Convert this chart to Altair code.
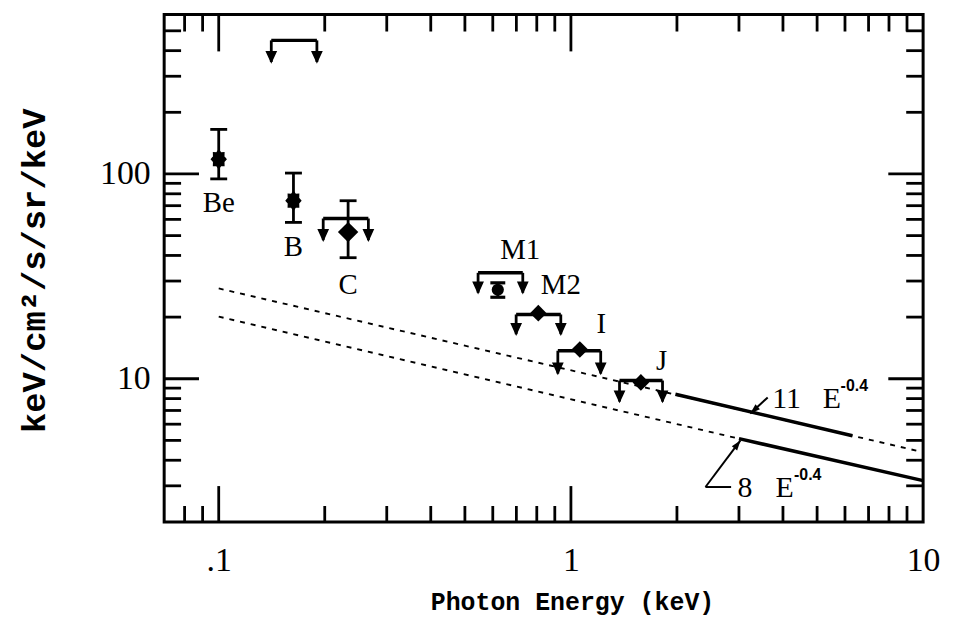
import altair as alt
import numpy as np
import pandas as pd

# ---------------- data ----------------
pt_name = ['Be', 'B', 'C', 'M1', 'M2', 'I', 'J']
pt_x = [0.100, 0.163, 0.233, 0.620, 0.808, 1.060, 1.580]
pt_y = [118.0, 74.0, 52.0, 27.2, 20.9, 13.9, 9.6]

err_name = ['Be', 'B', 'C', 'M1']
err_x = [0.100, 0.163, 0.233, 0.620]
err_lo = [94.6, 58.0, 39.0, 25.0]
err_hi = [165.0, 101.0, 74.0, 29.4]

ul_x1 = [0.141, 0.198, 0.545, 0.699, 0.918, 1.374]
ul_x2 = [0.190, 0.266, 0.730, 0.936, 1.215, 1.820]
ul_y = [449.0, 60.6, 32.9, 20.6, 13.7, 9.8]
ul_tip = [352.0, 47.5, 26.3, 16.5, 10.6, 7.74]

lab_text = ['Be', 'B', 'C', 'M1', 'M2', 'I', 'J']
lab_x = [0.100, 0.163, 0.233, 0.718, 0.936, 1.22, 1.81]
lab_y = [72.4, 43.9, 28.8, 42.5, 28.8, 18.4, 12.2]

# power-law model lines (end points)
dash_id = ['11', '11', '8', '8']
dash_x = [0.1, 10.0, 0.1, 3.0]
dash_y = [27.6, 4.38, 20.1, 5.1]
solid_id = ['11', '11', '8', '8']
solid_x = [1.98, 6.3, 3.0, 10.0]
solid_y = [8.4, 5.27, 5.1, 3.18]

# annotations
ann_text = ['11', 'E', '8', 'E']
ann_x = [3.73, 5.19, 2.97, 3.81]
ann_y = [7.98, 7.98, 2.94, 2.94]
sup_text = ['-0.4', '-0.4']
sup_x = [5.83, 4.30]
sup_y = [9.26, 3.37]

lead_x1 = [3.62, 2.41, 2.41]
lead_y1 = [8.1, 2.96, 2.96]
lead_x2 = [3.23, 2.85, 3.03]
lead_y2 = [6.77, 2.96, 5.0]
head_x = [3.23, 3.03]
head_y = [6.77, 5.0]
head_ang = [228, 37]

# axis ticks / labels
x_major = [0.1, 1.0]
x_minor = [0.08, 0.09, 0.2, 0.3, 0.4, 0.5, 0.6, 0.7, 0.8, 0.9,
           2, 3, 4, 5, 6, 7, 8, 9]
y_major = [10, 100]
y_minor = [3, 4, 5, 6, 7, 8, 9, 20, 30, 40, 50, 60, 70, 80, 90,
           200, 300, 400, 500]
x_labels = [0.1, 1, 10]
y_labels = [10, 100]

# ---------------- chart ----------------
W, H = 763, 510
xs = alt.Scale(type='log', domain=[0.07, 10], nice=False)
ys = alt.Scale(type='log', domain=[2, 600], nice=False)
SERIF = 'Liberation Serif'

x_axis = alt.Axis(values=x_labels, labelExpr="datum.value < 0.5 ? '.1' : (datum.value < 5 ? '1' : '10')",
                  ticks=False, tickSize=0, domain=False, grid=False, labelFlush=False,
                  labelOverlap=False, labelFont=SERIF, labelFontSize=34, labelColor='black',
                  labelPadding=22, title='Photon Energy (keV)', titleFont='Liberation Mono',
                  titleFontWeight='bold', titleFontSize=25, titleColor='black',
                  titleX=410, titleY=80, titleBaseline='middle', titleAlign='center')
y_axis = alt.Axis(values=y_labels, labelExpr="format(datum.value, 'd')",
                  ticks=False, tickSize=0, domain=False, grid=False, labelFlush=False,
                  labelOverlap=False, labelFont=SERIF, labelFontSize=34, labelColor='black',
                  labelPadding=14, title='keV/cm²/s/sr/keV', titleFont='Liberation Mono',
                  titleFontWeight='bold', titleFontSize=34, titleColor='black',
                  titleX=-130, titleY=257, titleBaseline='middle', titleAngle=-90,
                  titleAlign='center')


def X(f):
    return alt.X(f, type='quantitative', scale=xs, axis=x_axis)


def Y(f):
    return alt.Y(f, type='quantitative', scale=ys, axis=y_axis)


df_pts = pd.DataFrame({'name': pt_name, 'x': pt_x, 'y': pt_y})
df_err = pd.DataFrame({'name': err_name, 'x': err_x, 'lo': err_lo, 'hi': err_hi})
df_caps = pd.DataFrame({'name': err_name * 2, 'x': err_x * 2, 'y': err_lo + err_hi})
df_ul = pd.DataFrame({'x1': ul_x1, 'x2': ul_x2, 'y': ul_y, 'tip': ul_tip})
df_ul_end = pd.DataFrame({'x': ul_x1 + ul_x2, 'y': ul_y * 2, 'tip': ul_tip * 2})
df_lab = pd.DataFrame({'t': lab_text, 'x': lab_x, 'y': lab_y})
df_dash = pd.DataFrame({'id': dash_id, 'x': dash_x, 'y': dash_y})
df_solid = pd.DataFrame({'id': solid_id, 'x': solid_x, 'y': solid_y})
df_ann = pd.DataFrame({'t': ann_text, 'x': ann_x, 'y': ann_y})
df_sup = pd.DataFrame({'t': sup_text, 'x': sup_x, 'y': sup_y})
df_lead = pd.DataFrame({'x1': lead_x1, 'y1': lead_y1, 'x2': lead_x2, 'y2': lead_y2})
df_head = pd.DataFrame({'x': head_x, 'y': head_y, 'a': head_ang})

dash = alt.Chart(df_dash).mark_line(color='black', strokeWidth=1.9, strokeDash=[5, 6]).encode(
    x=X('x'), y=Y('y'), detail='id:N')
solid = alt.Chart(df_solid).mark_line(color='black', strokeWidth=3.5).encode(
    x=X('x'), y=Y('y'), detail='id:N')


# inward frame ticks
def yticks(vals, x0, x1):
    return alt.Chart(pd.DataFrame({'v': vals})).mark_rule(color='black', strokeWidth=2.8).encode(
        y=Y('v'), x=alt.value(x0), x2=alt.value(x1))


def xticks(vals, y0, y1):
    return alt.Chart(pd.DataFrame({'v': vals})).mark_rule(color='black', strokeWidth=2.8).encode(
        x=X('v'), y=alt.value(y0), y2=alt.value(y1))


ticks = [yticks(y_major, 0, 35), yticks(y_minor, 0, 17),
         yticks(y_major, W, W - 35), yticks(y_minor, W, W - 17),
         xticks(x_major, H, H - 36), xticks(x_minor, H, H - 16),
         xticks(x_major, 0, 37), xticks(x_minor, 0, 17)]

# upper-limit brackets
ul_h = alt.Chart(df_ul).mark_rule(color='black', strokeWidth=3.5).encode(
    x=X('x1'), x2='x2:Q', y=Y('y'))
ul_v = alt.Chart(df_ul_end).mark_rule(color='black', strokeWidth=2.8).encode(
    x=X('x'), y=Y('y'), y2='tip:Q')
ul_head = alt.Chart(df_ul_end).mark_point(
    shape='M0,0L-1,-2.2L1,-2.2Z', size=90, filled=True, color='black', opacity=1,
    stroke='black', strokeWidth=1.5).encode(
    x=X('x'), y=Y('tip'))

# error bars
err_v = alt.Chart(df_err).mark_rule(color='black', strokeWidth=2.8).encode(
    x=X('x'), y=Y('lo'), y2='hi:Q')
caps_big = alt.Chart(df_caps).transform_filter(
    alt.FieldOneOfPredicate(field='name', oneOf=['Be', 'B', 'C'])).mark_point(
    shape='stroke', size=289, filled=False, color='black', strokeWidth=2.8, opacity=1).encode(
    x=X('x'), y=Y('y'))
caps_small = alt.Chart(df_caps).transform_filter(
    alt.FieldOneOfPredicate(field='name', oneOf=['M1'])).mark_point(
    shape='stroke', size=225, filled=False, color='black', strokeWidth=3.2, opacity=1).encode(
    x=X('x'), y=Y('y'))

# markers
ang = np.arange(16) * np.pi / 8
rad = np.where(np.arange(16) % 2 == 0, 1.0, 0.75)
star_path = 'M' + 'L'.join(f'{0.8 * r * np.sin(a):.3f},{-r * np.cos(a):.3f}' for a, r in zip(ang, rad)) + 'Z'

stars = alt.Chart(df_pts).transform_filter(
    alt.FieldOneOfPredicate(field='name', oneOf=['Be', 'B'])).mark_point(
    shape=star_path, size=300, filled=True, color='black', opacity=1,
    stroke='black', strokeWidth=2).encode(x=X('x'), y=Y('y'))
blob = alt.Chart(df_pts).transform_filter(
    alt.FieldOneOfPredicate(field='name', oneOf=['M1'])).mark_point(
    shape='circle', size=150, filled=True, color='black', opacity=1).encode(x=X('x'), y=Y('y'))
dia_big = alt.Chart(df_pts).transform_filter(
    alt.FieldOneOfPredicate(field='name', oneOf=['C'])).mark_point(
    shape='diamond', size=420, filled=True, color='black', opacity=1).encode(x=X('x'), y=Y('y'))
dia_small = alt.Chart(df_pts).transform_filter(
    alt.FieldOneOfPredicate(field='name', oneOf=['M2', 'I', 'J'])).mark_point(
    shape='diamond', size=280, filled=True, color='black', opacity=1).encode(x=X('x'), y=Y('y'))

labels = alt.Chart(df_lab).mark_text(font=SERIF, fontSize=29, color='black',
                                     align='center', baseline='middle').encode(
    x=X('x'), y=Y('y'), text='t:N')

ann = alt.Chart(df_ann).mark_text(font=SERIF, fontSize=30, color='black',
                                  align='left', baseline='middle').encode(
    x=X('x'), y=Y('y'), text='t:N')
sup = alt.Chart(df_sup).mark_text(font='Liberation Sans', fontSize=16, fontWeight='bold',
                                  color='black', align='left', baseline='middle').encode(
    x=X('x'), y=Y('y'), text='t:N')
lead = alt.Chart(df_lead).mark_rule(color='black', strokeWidth=2).encode(
    x=X('x1'), y=Y('y1'), x2='x2:Q', y2='y2:Q')
heads = alt.Chart(df_head).mark_point(shape='M0,0L-0.8,2.4L0.8,2.4Z', size=70, filled=True,
                                      color='black', opacity=1).encode(
    x=X('x'), y=Y('y'), angle=alt.Angle('a:Q', scale=None))

chart = alt.layer(
    dash, solid, *ticks, ul_h, ul_v, ul_head, err_v, caps_big, caps_small,
    stars, blob, dia_big, dia_small, labels, ann, sup, lead, heads
).properties(
    width=W, height=H,
    autosize=alt.AutoSizeParams(type='none'),
    padding={'left': 157, 'top': 5, 'right': 22, 'bottom': 97},
    background='white'
).configure_view(stroke='black', strokeWidth=3)

chart.save('out.html', embed_options={'renderer': 'svg', 'actions': False})
